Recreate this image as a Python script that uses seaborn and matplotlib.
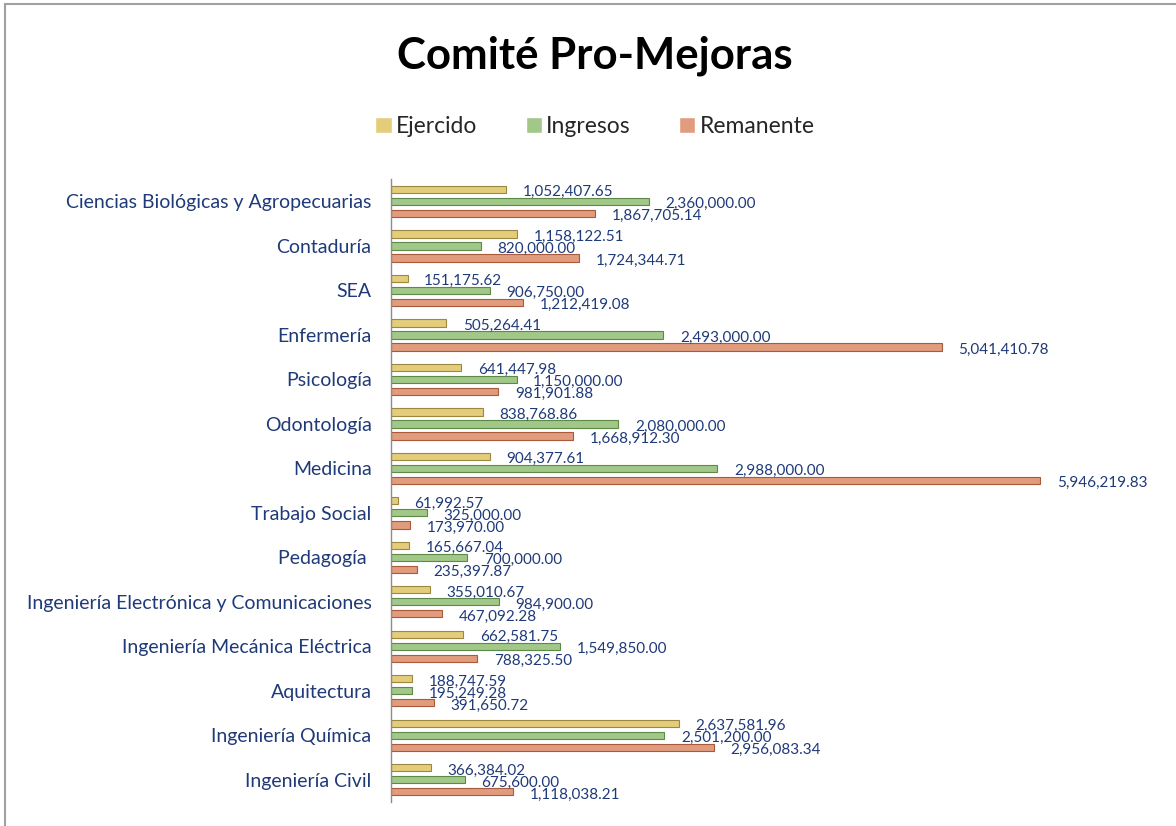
import numpy as np
import pandas as pd
import seaborn as sns
import matplotlib.pyplot as plt
from matplotlib.lines import Line2D

categories = [
    "Ciencias Biológicas y Agropecuarias", "Contaduría", "SEA", "Enfermería",
    "Psicología", "Odontología", "Medicina", "Trabajo Social", "Pedagogía ",
    "Ingeniería Electrónica y Comunicaciones", "Ingeniería Mecánica Eléctrica",
    "Aquitectura", "Ingeniería Química", "Ingeniería Civil",
]
ejercido = [1052407.65, 1158122.51, 151175.62, 505264.41, 641447.98, 838768.86,
            904377.61, 61992.57, 165667.04, 355010.67, 662581.75, 188747.59,
            2637581.96, 366384.02]
ingresos = [2360000.00, 820000.00, 906750.00, 2493000.00, 1150000.00, 2080000.00,
            2988000.00, 325000.00, 700000.00, 984900.00, 1549850.00, 195249.28,
            2501200.00, 675600.00]
remanente = [1867705.14, 1724344.71, 1212419.08, 5041410.78, 981901.88, 1668912.30,
             5946219.83, 173970.00, 235397.87, 467092.28, 788325.50, 391650.72,
             2956083.34, 1118038.21]
series = ["Ejercido", "Ingresos", "Remanente"]
colors = ["#F4D76A", "#9ED27E", "#F2966C"]
edges = ["#9C8840", "#5E8A48", "#A85A3A"]
label_color = "#1F3A78"

df = pd.DataFrame({
    "categoria": categories * 3,
    "serie": np.repeat(series, len(categories)),
    "valor": ejercido + ingresos + remanente,
})

sns.set_theme(style="white")
plt.rcParams["font.family"] = ["Lato", "DejaVu Sans"]

fig = plt.figure(figsize=(11.76, 8.26), dpi=100)
ax = fig.add_axes([0.3325, 0.029, 0.65, 0.754])

sns.barplot(data=df, y="categoria", x="valor", hue="serie", order=categories,
            hue_order=series, palette=colors, orient="h", width=0.81, gap=0.4,
            ax=ax, legend=True)

# data labels: right of each bar end, nudged down a little like the original
for cont, ec in zip(ax.containers, edges):
    for bar, v in zip(cont, cont.datavalues):
        bar.set_edgecolor(ec)
        bar.set_linewidth(0.8)
        yc = bar.get_y() + bar.get_height() / 2
        ax.annotate(f"{v:,.2f}", xy=(bar.get_width(), yc), xytext=(12, -2),
                    textcoords="offset points", ha="left", va="center",
                    color=label_color, fontsize=11)

ax.set_xlim(0, 7.0e6)
ax.set_ylim(13.5, -0.5)
ax.set_xlabel("")
ax.set_ylabel("")
ax.set_xticks([])
ax.tick_params(axis="y", length=0, pad=14, labelsize=14, labelcolor=label_color)
for s in ["top", "right", "bottom"]:
    ax.spines[s].set_visible(False)
ax.spines["left"].set_color("#8C8C8C")
ax.spines["left"].set_linewidth(1.0)

handles, labels = ax.get_legend_handles_labels()
ax.get_legend().remove()
fig.legend(handles, labels, loc="center", bbox_to_anchor=(0.506, 0.847), ncol=3,
           frameon=False, fontsize=16.5, handlelength=0.7, handleheight=0.7,
           handletextpad=0.2, columnspacing=2.1)

fig.text(0.506, 0.933, "Comité Pro-Mejoras", ha="center", va="center",
         fontsize=31.5, fontweight="bold", color="black")

fig.add_artist(Line2D([0.004, 1.0], [0.995, 0.995], color="#A0A0A0", lw=1.5,
                      transform=fig.transFigure))
fig.add_artist(Line2D([0.0045, 0.0045], [0.0, 0.995], color="#A0A0A0", lw=1.5,
                      transform=fig.transFigure))

fig.savefig("out.png", dpi=100, facecolor="white")
